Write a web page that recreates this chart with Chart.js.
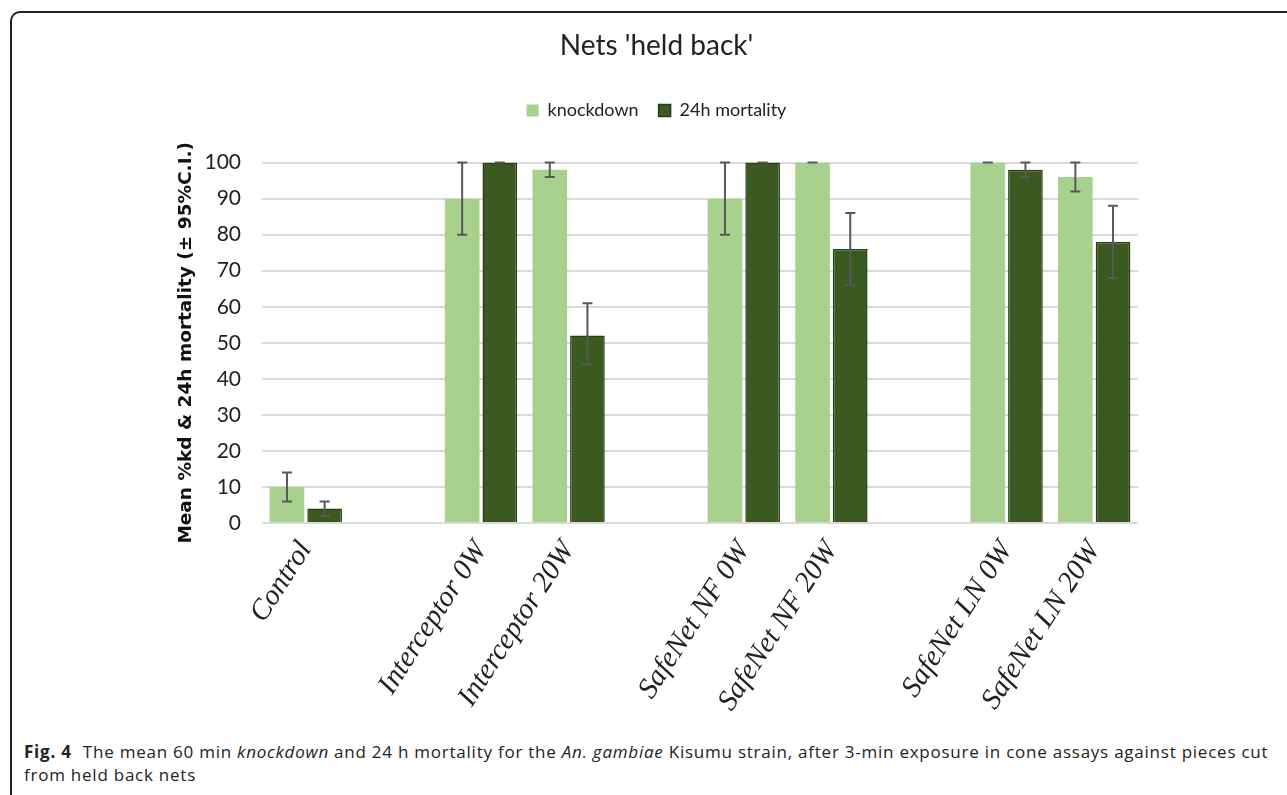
<!DOCTYPE html>
<html>
<head>
<meta charset="utf-8">
<script src="https://cdn.jsdelivr.net/npm/chart.js@4.4.0/dist/chart.umd.min.js"></script>
<style>
  body { margin: 0; background: #fff; }
  #frame {
    position: absolute; left: 10px; top: 11px; width: 1290px; height: 800px;
    border-top: 2px solid #222; border-left: 2px solid #222; border-top-left-radius: 10px;
  }
  #wrap { position: absolute; left: 10px; top: 12px; width: 1277px; height: 723px; }
  #caption {
    position: absolute; left: 24px; top: 740px; font-family: "Open Sans"; font-size: 17px;
    letter-spacing: 0.76px; line-height: 23px; color: #222; white-space: nowrap;
  }
  #caption b { font-weight: 700; margin-right: 6px; }
</style>
</head>
<body>
<div id="frame"></div>
<div id="wrap"><canvas id="grafico"></canvas></div>
<div id="caption"><b>Fig. 4</b> The mean 60 min <i>knockdown</i> and 24 h mortality for the <i>An. gambiae</i> Kisumu strain, after 3-min exposure in cone assays against pieces cut<br>from held back nets</div>
<script>
//Datos
let categorias = ["Control", "", "Interceptor 0W", "Interceptor 20W", "", "SafeNet NF 0W", "SafeNet NF 20W", "", "SafeNet LN 0W", "SafeNet LN 20W"]
let knockdown = [10, null, 90, 98, null, 90, 100, null, 100, 96]
let knockdownBajo = [6, null, 80, 96, null, 80, 100, null, 100, 92]
let knockdownAlto = [14, null, 100, 100, null, 100, 100, null, 100, 100]
let mortalidad = [4, null, 100, 52, null, 100, 76, null, 98, 78]
let mortalidadBajo = [2, null, 100, 44, null, 100, 66, null, 96, 68]
let mortalidadAlto = [6, null, 100, 61, null, 100, 86, null, 100, 88]
let ticksY = [0, 10, 20, 30, 40, 50, 60, 70, 80, 90, 100]

//Barras de error
const barrasError = {
    id: 'barrasError',
    afterDatasetsDraw(chart) {
        const ctx = chart.ctx
        const y = chart.scales.y
        const limites = [[knockdownBajo, knockdownAlto], [mortalidadBajo, mortalidadAlto]]
        ctx.save()
        ctx.strokeStyle = '#595959'
        ctx.lineWidth = 2
        chart.data.datasets.forEach((ds, d) => {
            chart.getDatasetMeta(d).data.forEach((bar, i) => {
                if (ds.data[i] === null) return
                let bajo = y.getPixelForValue(limites[d][0][i])
                let alto = y.getPixelForValue(limites[d][1][i])
                ctx.beginPath()
                ctx.moveTo(bar.x, bajo); ctx.lineTo(bar.x, alto)
                ctx.moveTo(bar.x - 5, bajo); ctx.lineTo(bar.x + 5, bajo)
                ctx.moveTo(bar.x - 5, alto); ctx.lineTo(bar.x + 5, alto)
                ctx.stroke()
            })
        })
        ctx.restore()
    }
}

//Espacio bajo la leyenda
const espacioLeyenda = {
    id: 'espacioLeyenda',
    beforeInit(chart) {
        const fitOriginal = chart.legend.fit
        chart.legend.fit = function () {
            fitOriginal.call(this)
            this.height += 33
        }
    }
}

const ctx = document.getElementById('grafico');
new Chart(ctx, {
    type: 'bar',
    data: {
        labels: categorias,
        datasets: [
            { label: 'knockdown', data: knockdown, backgroundColor: '#a9d18e', borderColor: '#a9d18e', borderWidth: 0 },
            { label: '24h mortality', data: mortalidad, backgroundColor: '#3b5a22', borderColor: '#253d12', borderWidth: 1.5 },
        ]
    },
    options: {
        responsive: true,
        maintainAspectRatio: false,
        animation: false,
        events: [],
        categoryPercentage: 0.86,
        barPercentage: 0.92,
        layout: { padding: { left: 165, right: 149, top: 0, bottom: 0 } },
        scales: {
            x: {
                grid: { display: false },
                border: { display: false },
                ticks: {
                    maxRotation: 57, minRotation: 57, autoSkip: false, padding: 4,
                    color: '#222', font: { family: 'Liberation Serif', size: 29, style: 'italic' }
                },
                afterFit: (s) => { s.height = 212 }
            },
            y: {
                min: 0, max: 100,
                afterBuildTicks: (s) => { s.ticks = ticksY.map(v => ({ value: v })) },
                grid: { color: '#d9d9d9', lineWidth: 2, drawTicks: false },
                border: { display: false },
                ticks: { padding: 21, color: '#222', font: { family: 'Lato', size: 21 } },
                title: {
                    display: true, text: 'Mean %kd & 24h mortality (± 95%C.I.)', color: '#111', padding: 0,
                    font: { family: 'DejaVu Sans', size: 18.5, weight: 'bold' }
                },
                afterFit: (s) => { s.width = 87 }
            }
        },
        plugins: {
            tooltip: { enabled: false },
            title: {
                display: true, text: "Nets 'held back'", color: '#222',
                font: { family: 'Lato', size: 28, weight: 'normal' },
                padding: { top: 17, bottom: 19 }
            },
            legend: {
                labels: {
                    boxWidth: 12, boxHeight: 12, padding: 20, color: '#222',
                    font: { family: 'Lato', size: 18 }
                }
            }
        }
    },
    plugins: [barrasError, espacioLeyenda]
});
</script>
</body>
</html>
